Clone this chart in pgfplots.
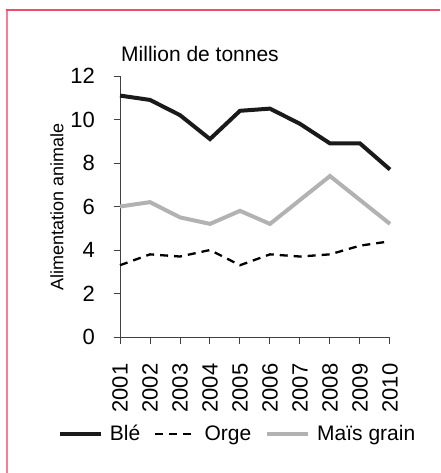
\documentclass[border=0pt]{standalone}
\usepackage{pgfplots}
\pgfplotsset{compat=1.18}
\usepackage{fontspec}
\setmainfont{Liberation Sans}
\definecolor{frame}{RGB}{240,78,104}
\definecolor{frameleft}{RGB}{244,128,148}
\definecolor{maisgray}{RGB}{178,178,178}
\definecolor{bleblack}{RGB}{26,26,26}
\begin{document}
\begin{tikzpicture}
\useasboundingbox (0pt,0pt) rectangle (440pt,-473pt);
\draw[frameleft, line width=2pt] (6.5pt,-473pt) -- (6.5pt,-10pt);
\draw[frame, line width=2pt] (5.5pt,-10pt) -- (440pt,-10pt);
\begin{axis}[
  at={(120pt,-337pt)}, anchor=south west,
  scale only axis, width=270pt, height=261pt,
  xmin=2001, xmax=2010, ymin=0, ymax=12,
  axis x line*=bottom, axis y line*=left,
  axis line style={-, draw=black!75, line width=1pt},
  xtick={2001,2002,2003,2004,2005,2006,2007,2008,2009,2010},
  xticklabels={2001,2002,2003,2004,2005,2006,2007,2008,2009,2010},
  ytick={0,2,4,6,8,10,12},
  yticklabels={0,2,4,6,8,10,12},
  tick align=outside, major tick length=6.5pt,
  tick style={draw=black!75, line width=1pt},
  xticklabel style={rotate=90, anchor=east, inner xsep=20pt, font=\fontsize{22}{26}\selectfont},
  yticklabel style={anchor=east, inner xsep=18.5pt, font=\fontsize{22}{26}\selectfont},
  clip=false,
  legend columns=3,
  legend style={at={(axis cs:1998.93,-4.45)}, anchor=west, draw=none, fill=none,
    inner sep=0pt, outer sep=0pt, column sep=7pt,
    nodes={inner sep=0pt, font=\fontsize{21}{25}\selectfont},
    /tikz/every even column/.append style={column sep=14pt}},
  legend image code/.code={\draw[#1] (0pt,0pt) -- (41pt,0pt);},
]
\addplot[bleblack, line width=4pt] coordinates {
 (2001,11.1) (2002,10.9) (2003,10.2) (2004,9.1) (2005,10.4)
 (2006,10.5) (2007,9.8) (2008,8.9) (2009,8.9) (2010,7.7)};
\addlegendentry{Blé}
\addplot[black, line width=2.3pt, dash pattern=on 8pt off 6pt] coordinates {
 (2001,3.3) (2002,3.8) (2003,3.7) (2004,4.0) (2005,3.3)
 (2006,3.8) (2007,3.7) (2008,3.8) (2009,4.2) (2010,4.4)};
\addlegendentry{Orge}
\addplot[maisgray, line width=4pt] coordinates {
 (2001,6.0) (2002,6.2) (2003,5.5) (2004,5.2) (2005,5.8)
 (2006,5.2) (2007,6.3) (2008,7.4) (2009,6.3) (2010,5.2)};
\addlegendentry{Maïs grain}
\end{axis}
\node[anchor=base west, inner sep=0pt, font=\fontsize{21}{25}\selectfont] at (121pt,-62pt) {Million de tonnes};
\node[rotate=90, inner sep=0pt, font=\fontsize{18}{22}\selectfont] at (57pt,-207pt) {Alimentation animale};
\end{tikzpicture}
\end{document}
